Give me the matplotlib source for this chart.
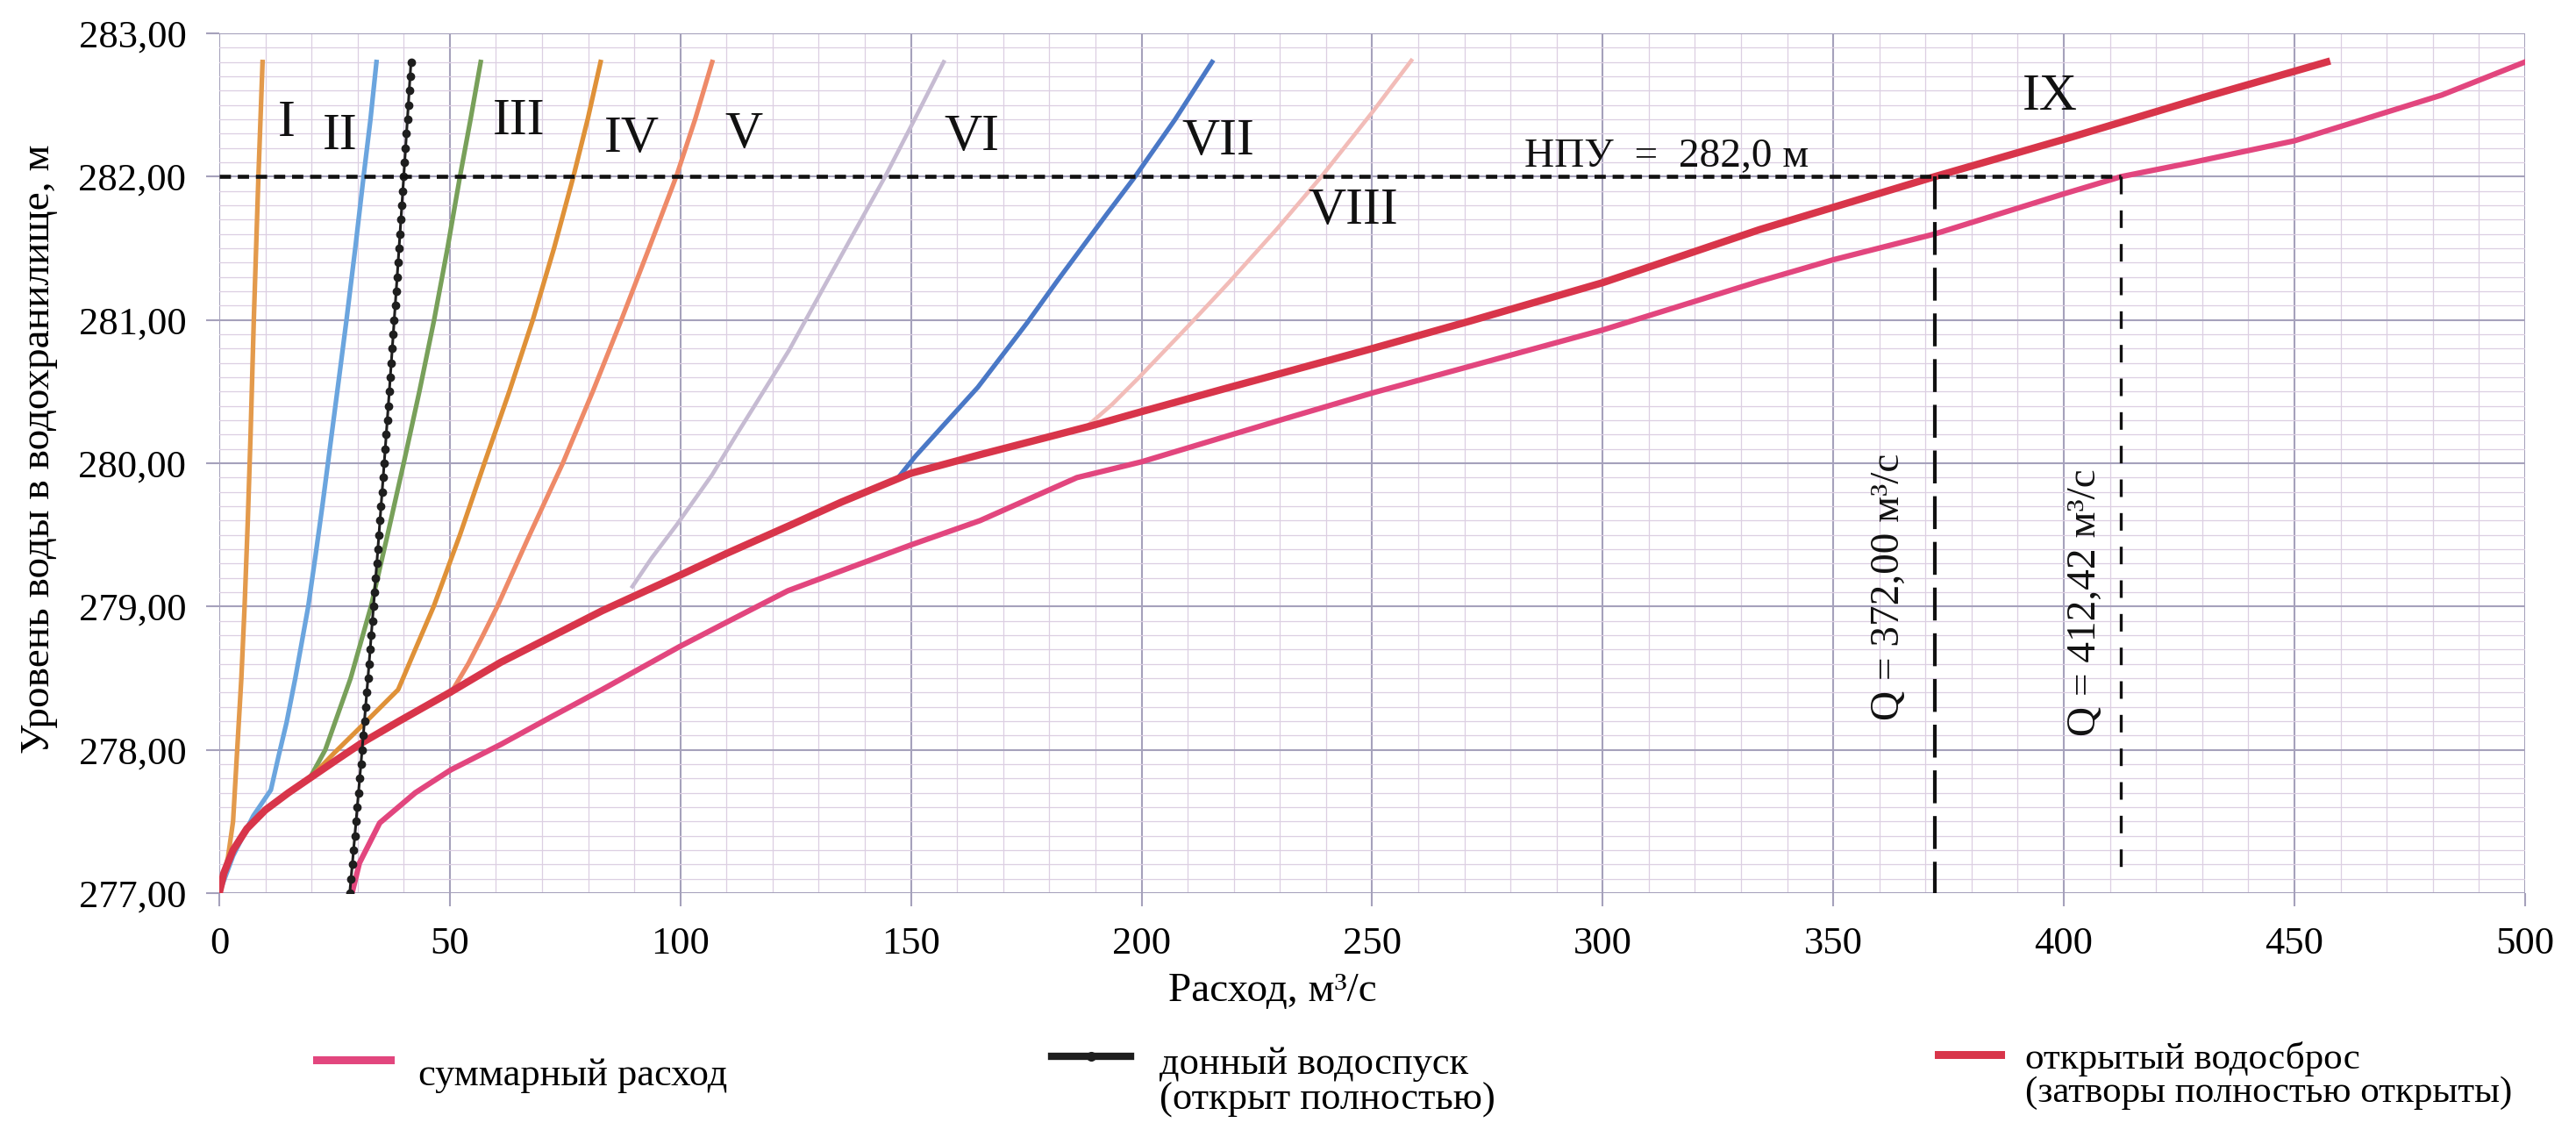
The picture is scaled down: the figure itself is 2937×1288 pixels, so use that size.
import numpy as np
import matplotlib.pyplot as plt
from matplotlib.lines import Line2D
from matplotlib.ticker import MultipleLocator, FuncFormatter

plt.rcParams['font.family'] = ['Liberation Serif', 'DejaVu Serif']

# --- данные: расход Q (м3/с) и уровень H (м) ---
# кривые частичного открытия затворов I..VIII
q_I = [0, 1.9, 3.0, 3.9, 4.8, 5.5, 6.2, 6.8, 7.5, 8.5, 9.4]
h_I = [277.0, 277.25, 277.5, 278.0, 278.5, 279.0, 279.6, 280.2, 281.0, 282.0, 282.8]

q_II = [0, 3.0, 7.4, 11.2, 12.9, 14.6, 16.5, 19.3, 20.9, 22.4, 24.3, 26.0, 27.6, 29.5, 31.3, 32.8, 34.1]
h_II = [277.0, 277.26, 277.54, 277.72, 277.96, 278.19, 278.5, 279.0, 279.36, 279.71, 280.18,
        280.6, 281.0, 281.5, 282.0, 282.4, 282.8]

q_III = [19.6, 23.0, 28.5, 32.9, 36.5, 40.0, 43.4, 46.6, 49.5, 52.2, 54.5, 56.7]
h_III = [277.8, 278.0, 278.5, 279.0, 279.5, 280.0, 280.5, 281.0, 281.5, 282.0, 282.4, 282.8]

q_IV = [19.6, 25.0, 31.0, 38.8, 42.5, 46.5, 52.2, 57.5, 62.9, 68.0, 72.6, 76.8, 79.9, 82.7]
h_IV = [277.8, 277.98, 278.17, 278.42, 278.7, 279.0, 279.5, 280.0, 280.5, 281.0, 281.5, 282.0,
        282.4, 282.8]

q_V = [50.3, 54.0, 57.2, 60.3, 67.3, 74.5, 81.0, 87.2, 93.2, 99.1, 103.2, 106.9]
h_V = [278.4, 278.6, 278.8, 279.0, 279.5, 280.0, 280.5, 281.0, 281.5, 282.0, 282.4, 282.8]

q_VI = [89.6, 93.8, 99.2, 106.9, 111.8, 118.0, 123.6, 130.6, 137.5, 144.4, 150.8, 157.1]
h_VI = [279.14, 279.34, 279.57, 279.92, 280.18, 280.5, 280.79, 281.2, 281.6, 282.0, 282.4, 282.8]

q_VII = [147.0, 151.0, 164.5, 175.2, 181.9, 192.5, 198.6, 207.3, 215.3]
h_VII = [279.89, 280.05, 280.53, 280.98, 281.28, 281.74, 282.0, 282.4, 282.8]

q_VIII = [188.6, 193.6, 199.5, 210.2, 218.9, 229.5, 239.0, 250.3, 258.5]
h_VIII = [280.27, 280.41, 280.6, 280.96, 281.26, 281.64, 282.0, 282.46, 282.81]

# открытый водосброс (затворы полностью открыты) - кривая IX
q_spill = [0, 1, 3, 6, 10, 15, 20, 25, 31, 39, 50, 61, 72, 83, 100, 110, 124, 135, 147, 150,
           165, 189, 200, 218, 250, 271, 300, 334, 372, 400, 430, 457]
h_spill = [277.0, 277.14, 277.3, 277.45, 277.58, 277.7, 277.81, 277.92, 278.05, 278.2, 278.4,
           278.61, 278.79, 278.97, 279.22, 279.37, 279.57, 279.73, 279.89, 279.93, 280.06, 280.26,
           280.36, 280.52, 280.8, 280.99, 281.26, 281.63, 282.0, 282.26, 282.55, 282.8]

# суммарный расход
q_total = [28.8, 30.4, 34.8, 42.5, 50.2, 61.2, 72.0, 83.0, 99.8, 110.0, 123.3, 150.0, 165.0, 186.0,
           200.0, 231.0, 250.0, 300.0, 334.0, 350.0, 372.0, 400.0, 412.42, 428.0, 450.0, 465.0, 482.0, 500.0]
h_total = [277.0, 277.21, 277.49, 277.7, 277.86, 278.04, 278.23, 278.42, 278.72, 278.89, 279.11,
           279.43, 279.6, 279.9, 280.01, 280.31, 280.49, 280.93, 281.27, 281.42, 281.6, 281.88,
           282.0, 282.1, 282.25, 282.4, 282.57, 282.8]

# донный водоспуск (открыт полностью)
h_bottom = [277.0, 277.1, 277.2, 277.3, 277.4, 277.5, 277.6, 277.7, 277.8, 277.9,
            278.0, 278.1, 278.2, 278.3, 278.4, 278.5, 278.6, 278.7, 278.8, 278.9,
            279.0, 279.1, 279.2, 279.3, 279.4, 279.5, 279.6, 279.7, 279.8, 279.9,
            280.0, 280.1, 280.2, 280.3, 280.4, 280.5, 280.6, 280.7, 280.8, 280.9,
            281.0, 281.1, 281.2, 281.3, 281.4, 281.5, 281.6, 281.7, 281.8, 281.9,
            282.0, 282.1, 282.2, 282.3, 282.4, 282.5, 282.6, 282.7, 282.8]
q_bottom = [28.30, 28.58, 28.86, 29.13, 29.40, 29.67, 29.94, 30.20, 30.46, 30.73,
            30.98, 31.24, 31.49, 31.74, 32.00, 32.25, 32.49, 32.73, 32.97, 33.21,
            33.46, 33.70, 33.93, 34.17, 34.40, 34.63, 34.86, 35.09, 35.32, 35.55,
            35.77, 36.00, 36.22, 36.44, 36.66, 36.88, 37.09, 37.31, 37.52, 37.74,
            37.95, 38.16, 38.37, 38.58, 38.79, 38.99, 39.20, 39.40, 39.61, 39.81,
            40.01, 40.21, 40.41, 40.61, 40.81, 41.01, 41.19, 41.39, 41.59]

npu = 282.0
q_npu_spill = 372.00
q_npu_total = 412.42

curve_names = ['I', 'II', 'III', 'IV', 'V', 'VI', 'VII', 'VIII', 'IX']
x_ticks = [0, 50, 100, 150, 200, 250, 300, 350, 400, 450, 500]
y_ticks = [277, 278, 279, 280, 281, 282, 283]

# --- рисунок ---
fig = plt.figure(figsize=(29.37, 12.88), dpi=100)
ax = fig.add_axes([0.0851, 0.2096, 0.8951, 0.7609])

ax.set_xlim(0, 500)
ax.set_ylim(277, 283)
ax.xaxis.set_minor_locator(MultipleLocator(10))
ax.yaxis.set_minor_locator(MultipleLocator(0.1))
ax.set_xticks(x_ticks)
ax.set_yticks(y_ticks)
ax.yaxis.set_major_formatter(FuncFormatter(lambda v, p: f'{v:.2f}'.replace('.', ',')))
ax.grid(which='minor', color='#dccfe2', linewidth=0.9)
ax.grid(which='major', color='#a5a1bb', linewidth=1.5)
ax.set_axisbelow(True)
for s in ax.spines.values():
    s.set_visible(False)
ax.tick_params(which='major', length=11, width=1.5, color='#a5a1bb', labelsize=32)
ax.tick_params(axis='y', pad=16)
ax.tick_params(axis='x', pad=16)
ax.tick_params(which='minor', length=0)

lw = 3.8
ax.plot(q_I, h_I, color='#e39a4c', lw=lw)
ax.plot(q_II, h_II, color='#6ba5de', lw=lw)
ax.plot(q_III, h_III, color='#78a05a', lw=lw)
ax.plot(q_IV, h_IV, color='#df9138', lw=lw)
ax.plot(q_V, h_V, color='#ee8a68', lw=lw)
ax.plot(q_VI, h_VI, color='#c6bbd2', lw=3.3)
ax.plot(q_VII, h_VII, color='#4a78c6', lw=lw)
ax.plot(q_VIII, h_VIII, color='#f2bcb8', lw=3.3)
ax.plot(q_total, h_total, color='#e2467e', lw=4.5, zorder=4)
ax.plot(q_spill, h_spill, color='#d8354a', lw=6, zorder=5)
ax.plot(q_bottom, h_bottom, color='#1e1e1e', lw=2.2, marker='o', ms=6, zorder=6)

# НПУ и расходы при НПУ
ax.plot([0, q_npu_total], [npu, npu], color='#111111', lw=3.3, dashes=(2.8, 1.7), zorder=7)
ax.plot([q_npu_spill, q_npu_spill], [npu, 277], color='#111111', lw=3.0, dashes=(9, 3.5), zorder=7)
ax.plot([q_npu_total, q_npu_total], [npu, 277.1], color='#111111', lw=2.4, dashes=(6, 5.5), zorder=7)

# подписи кривых
label_pos = [(14.6, 282.37), (26.3, 282.28), (65, 282.38), (89.5, 282.26), (113.8, 282.29),
             (163.2, 282.27), (216.6, 282.24), (245.9, 281.76), (397.1, 282.55)]
for name, (qx, hy) in zip(curve_names, label_pos):
    ax.text(qx, hy, name, fontsize=43, ha='center', va='center', color='#111111', zorder=8)

ax.text(313.8, 282.14, 'НПУ  =  282,0 м', fontsize=34, ha='center', va='center', color='#111111')
ax.text(362.1, 279.14, 'Q = 372,00 м³/с', fontsize=34, rotation=90, ha='center', va='center',
        color='#111111')
ax.text(404.7, 279.03, 'Q = 412,42 м³/с', fontsize=34, rotation=90, ha='center', va='center',
        color='#111111')

fig.text(0.494, 0.1227, 'Расход, м³/с', fontsize=34, ha='center', va='center')
fig.text(0.0153, 0.603, 'Уровень воды в водохранилище, м', fontsize=34, rotation=90,
         ha='center', va='center')

# легенда
fig.add_artist(Line2D([0.1229, 0.1515], [0.0621, 0.0621], color='#e2467e', lw=6.5))
fig.text(0.1624, 0.0481, 'суммарный расход', fontsize=32, va='center')
fig.add_artist(Line2D([0.4082, 0.42355, 0.4389], [0.0652, 0.0652, 0.0652], color='#1e1e1e', lw=6,
                      marker='o', ms=7, markevery=[1]))
fig.text(0.4501, 0.0423, 'донный водоспуск\n(открыт полностью)', fontsize=32, va='center',
         linespacing=1.0)
fig.add_artist(Line2D([0.7525, 0.7766], [0.0668, 0.0668], color='#d8354a', lw=6.5))
fig.text(0.7862, 0.0481, 'открытый водосброс\n(затворы полностью открыты)', fontsize=31, va='center',
         linespacing=1.0)

fig.savefig('out.png', dpi=100, facecolor='white')
